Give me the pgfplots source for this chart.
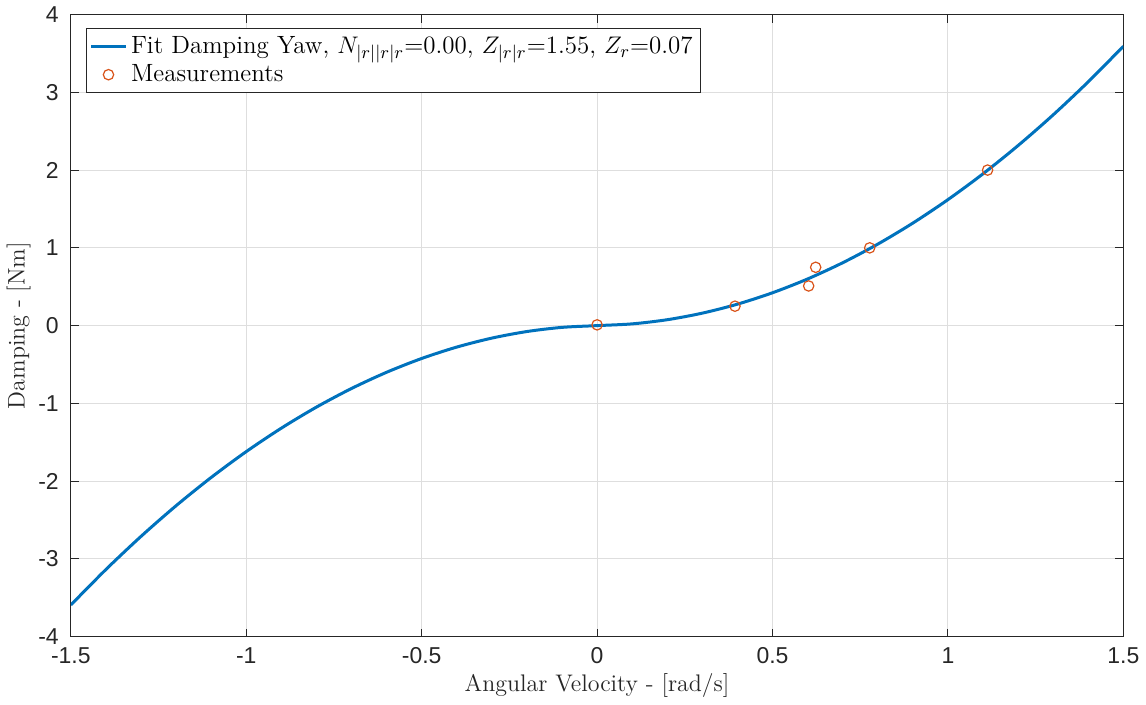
\documentclass[border=0pt]{standalone}
\usepackage{fontspec}
\usepackage{pgfplots}
\pgfplotsset{compat=1.18}
\newfontfamily\ticksf{Liberation Sans}
\definecolor{mblue}{RGB}{0,114,189}
\definecolor{morange}{RGB}{217,83,25}
\definecolor{axgray}{RGB}{38,38,38}
\begin{document}
\begin{tikzpicture}
\begin{axis}[
  scale only axis,
  width=527pt, height=311.5pt,
  xmin=-1.5, xmax=1.5, ymin=-4, ymax=4,
  xtick={-1.5,-1,-0.5,0,0.5,1,1.5},
  ytick={-4,-3,-2,-1,0,1,2,3,4},
  xticklabels={-1.5,-1,-0.5,0,0.5,1,1.5},
  yticklabels={-4,-3,-2,-1,0,1,2,3,4},
  tick label style={font=\ticksf\fontsize{11.5}{13}\selectfont, text=axgray},
  xticklabel style={yshift=-2pt},
  yticklabel style={xshift=-2.5pt},
  tick align=inside,
  major tick length=4pt,
  tick style={axgray, line width=0.5pt},
  axis line style={axgray, line width=0.5pt},
  grid=major,
  grid style={black!13, line width=0.5pt},
  xlabel={Angular Velocity - [rad/s]},
  ylabel={Damping - [Nm]},
  label style={font=\fontsize{12}{14}\selectfont, text=axgray},
  xlabel style={yshift=2pt},
  ylabel style={yshift=-3pt},
  legend style={at={(0.014,0.978)}, anchor=north west, draw=axgray,
    font=\fontsize{12.5}{15}\selectfont, inner sep=2pt, row sep=0pt,
    cells={anchor=west}},
  legend cell align=left,
]
\addplot[mblue, line width=1.5pt, smooth] coordinates {
(-1.5,-3.5925) (-1.4,-3.136) (-1.3,-2.7105) (-1.2,-2.316) (-1.1,-1.9525)
(-1.0,-1.62) (-0.9,-1.3185) (-0.8,-1.048) (-0.7,-0.8085) (-0.6,-0.600)
(-0.5,-0.4225) (-0.4,-0.276) (-0.3,-0.1605) (-0.2,-0.076) (-0.1,-0.0225)
(0,0) (0.1,0.0225) (0.2,0.076) (0.3,0.1605) (0.4,0.276) (0.5,0.4225)
(0.6,0.600) (0.7,0.8085) (0.8,1.048) (0.9,1.3185) (1.0,1.62)
(1.1,1.9525) (1.2,2.316) (1.3,2.7105) (1.4,3.136) (1.5,3.5925)
};
\addlegendentry{Fit Damping Yaw, $N_{|r||r|r}$=0.00, $Z_{|r|r}$=1.55, $Z_r$=0.07}
\addplot[only marks, mark=o, mark size=2.6pt, morange, mark options={line width=0.6pt}] coordinates {
(0,0.01) (0.393,0.25) (0.603,0.51) (0.623,0.75) (0.777,1.0) (1.113,2.0)
};
\addlegendentry{Measurements}
\end{axis}
\end{tikzpicture}
\end{document}
